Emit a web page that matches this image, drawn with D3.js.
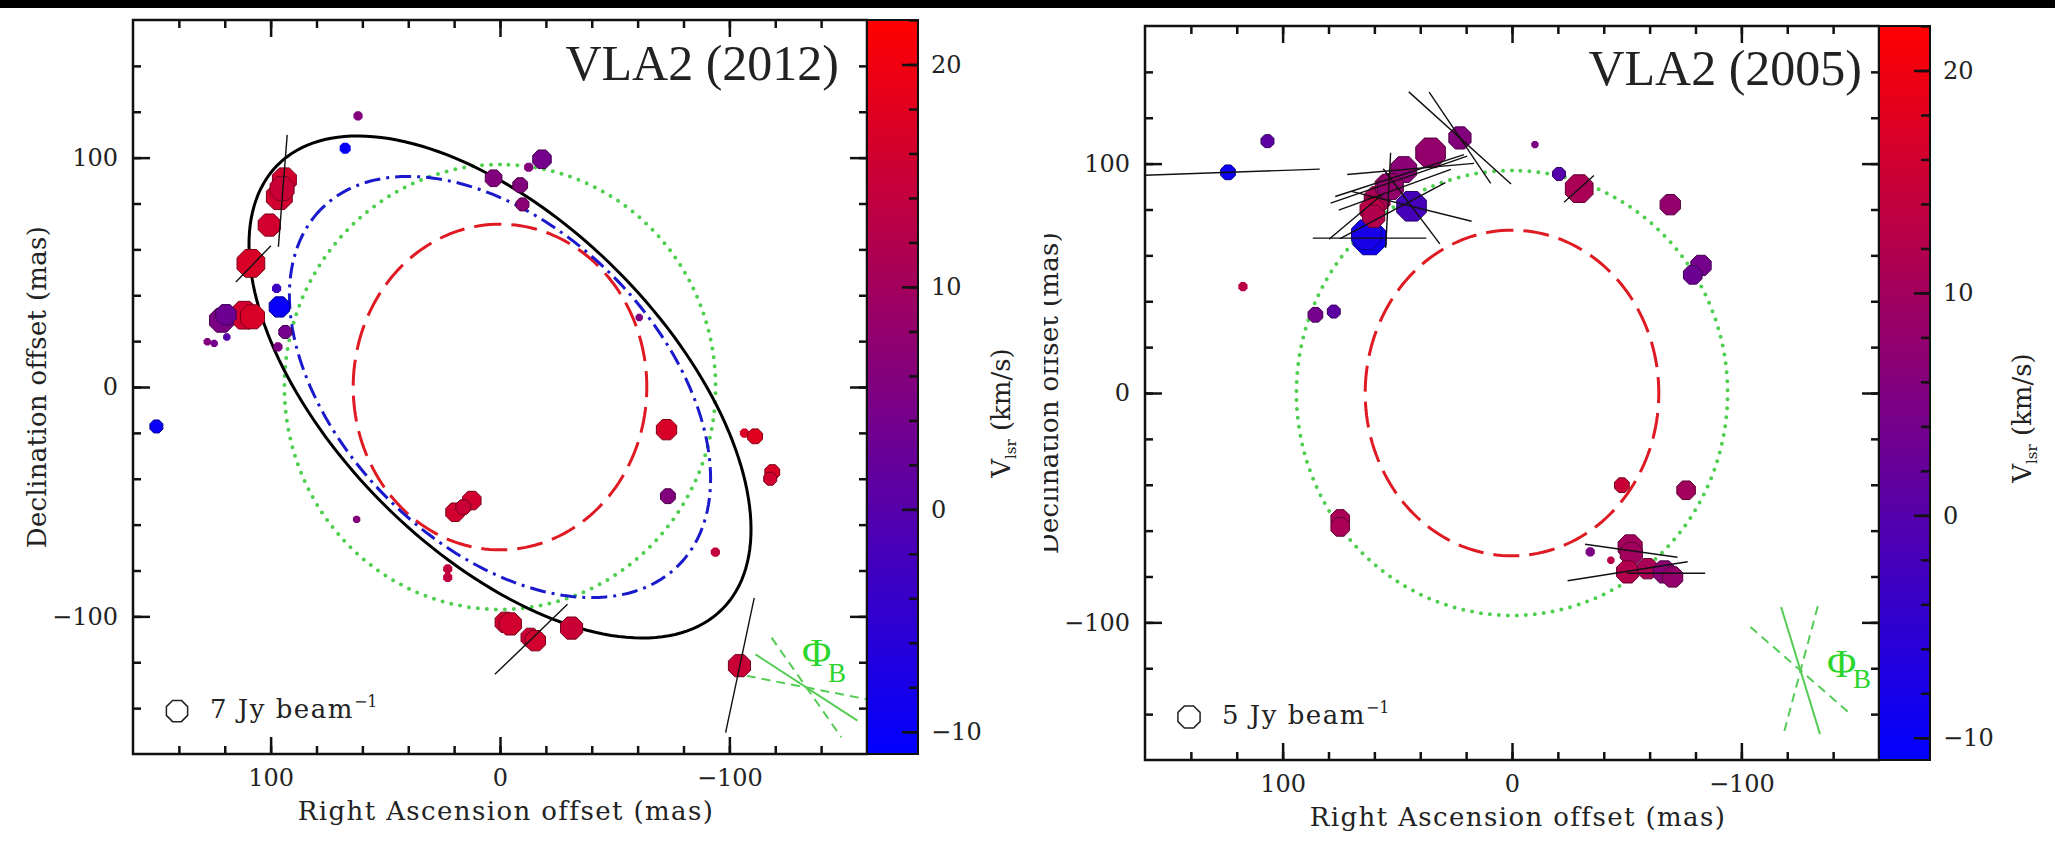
<!DOCTYPE html>
<html>
<head>
<meta charset="utf-8">
<script src="https://cdn.jsdelivr.net/npm/d3@7"></script>
<style>
  body { margin: 0; background: #fff; }
  svg { display: block; }
</style>
</head>
<body>
<div id="chart"></div>
<script>
// ---- axis ticks ----
const offsetTicks = [100, 0, -100];
const offsetMinorTicks = d3.range(-140, 141, 20);
const vlsrTicks = [20, 10, 0, -10];
const vlsrMinorTicks = d3.range(-10, 23, 2);
const vlsrRange = [-11, 22];

// ---- VLA2 2012 maser features (RA off, Dec off in mas; Vlsr km/s; flux Jy/beam) ----
const ra2012   = [61.9, 67.5, 2.8, -18.3, -12.5, -8.8, -9.8, 94, 96.2, 95, 100.6, 108.6, 111.5, 107.9, 121.4, 119.5, 127.6, 124.6, 119.1, 96.2, 97.4, 93.6, 96.8, 149.8, -60.7, -72.6, -106.6, -111.2, -118.7, -117.8, -73.2, -93.9, 12.3, 19.6, 16, 22.8, 22.8, -2.3, -4.5, -13.2, -15.4, -31.2, -104.4, 62.5];
const dec2012  = [118.2, 104.1, 91, 99.3, 95.8, 88, 79.6, 90.3, 83, 86.5, 70.6, 53.9, 31.3, 30.6, 29.1, 31.5, 19.7, 19, 21.8, 34.9, 43, 24, 17.5, -17.2, 30.3, -18.6, -20.1, -21.5, -37.1, -40, -47.6, -72, -49.5, -54.6, -52.4, -79.3, -83, -102.6, -103.3, -109.2, -110.6, -105.1, -121.5, -57.7];
const vlsr2012 = [6, -10, 6, 4, 6, 6, 7, 16, 16, 15, 16, 17, 16, 17, 5, 3, 6, 4, 0, -10, -3, 4, 5, -10, 5, 17, 17, 18, 17, 16, 6, 14, 16, 16, 15, 14, 14, 16, 16, 15, 16, 15, 15, 6];
const flux2012 = [1.3, 1.9, 4.3, 5.3, 1.3, 3.4, 2.6, 8.9, 10.4, 8.9, 7.6, 11.9, 11.9, 8.9, 8.9, 6.4, 0.85, 0.85, 0.85, 6.4, 1.3, 2.6, 1.3, 2.6, 0.85, 6.4, 1.3, 3.4, 3.4, 2.6, 3.4, 1.3, 5.3, 5.3, 3.4, 1.3, 1.3, 6.4, 7.6, 5.3, 6.4, 7.6, 7.6, 0.85];

// linear polarization vectors 2012 (centre, position angle deg, length mas)
const vecRa2012  = [94.7, 107.5, -13.6, -104.6];
const vecDec2012 = [85.5, 53.7, -110, -121.3];
const vecPa2012  = [-4.5, -44, -46, -12];
const vecLen2012 = [49, 22, 44, 60];

// ---- VLA2 2005 maser features ----
const ra2005   = [123.8, 106.6, 117.3, 85.7, 77.7, 58.8, 54.4, 47.2, 35.5, 22.7, 61, 53, 62.1, 63.5, 43.8, -10, -20.5, -29.3, -69, -82.4, -78.8, 74.9, 74.9, -47.9, -75.9, -34.1, -43.1, -51.5, -52, -50.4, -59.1, -66.4, -70, 60.3];
const dec2005  = [96.2, 109.8, 46.4, 34.1, 35.5, 84.3, 90.1, 97.4, 104.7, 111.2, 79.9, 90, 67.5, 69, 81.4, 108.3, 95.5, 89.1, 82.1, 55.6, 51.5, -54.9, -58.4, -40.2, -42.4, -69.3, -72.9, -67.1, -70, -78, -76.6, -78, -80.2, 77];
const vlsr2005 = [-9, 1, 13, 4, 1, 11, 9, 7, 8, 6, 13, 8, -9, -8, -2, 5, 0, 11, 8, 4, 3, 11, 11, 15, 10, 5, 13, 10, 10, 12, 11, 7, 8, 12];
const flux2005 = [2.2, 1.7, 0.87, 2.2, 1.7, 6.8, 5.9, 6.8, 8.9, 5, 5.9, 6.8, 11.2, 8.9, 8.9, 0.56, 1.7, 7.8, 4.2, 4.2, 3.5, 3.5, 3.5, 2.2, 3.5, 0.87, 0.56, 5.9, 5, 5, 4.2, 5, 4.2, 5];

const vecRa2005  = [123.8, 62.1, 22.7, 22.7, 44.2, 49.3, 49, 51.1, 52, 67.9, 54, 43.8, 43.8, -29.2, -52, -50.4, -67.2];
const vecDec2005 = [96.2, 67.5, 111.2, 111.3, 97.7, 93, 94.8, 88.6, 79.5, 77, 84, 81.4, 81.4, 89, -68.8, -77.7, -78.6];
const vecPa2005  = [92, 90, 48, 34, 95, 109, 108, 110, 118, 130, -3, 37, 76, -48, 82, 99, 90];
const vecLen2005 = [80, 49.5, 60, 48, 55.5, 63, 59, 52, 52, 31, 41.5, 41, 54, 17.5, 40.7, 53, 34];

// ---- ellipses (semi-major, semi-minor mas, position angle deg E of N) ----
const fitMajor2012 = [137, 110];
const fitMinor2012 = [72, 69];
const fitPa2012    = [45, 45];
const ringMajor = [97, 71];
const ringMinor = [94, 64];
const ringPa    = [0, 0];

// ---- magnetic field angle Phi_B (centre, PA, error, length) ----
const phiRa  = [-133.6, -125.8];
const phiDec = [-131, -121];
const phiPa  = [57, 17];
const phiErr = [22, 32];
const phiLen = [53, 58];

const legendFlux = [7, 5];

const W = 2055, H = 844, S = 734;
const serif = '"DejaVu Serif", serif';

const panels = [
  { title: 'VLA2 (2012)', left: 133, top: 20, titleX: 839, titleY: 80, cbarLabelX: 1010, cbarLabelY: 413,
    ra: ra2012, dec: dec2012, v: vlsr2012, flux: flux2012,
    vRa: vecRa2012, vDec: vecDec2012, vPa: vecPa2012, vLen: vecLen2012, fit: true,
    phiText: [802, 666, 828, 682], legR: 11.5 },
  { title: 'VLA2 (2005)', left: 1145, top: 26, titleX: 1862, titleY: 85, cbarLabelX: 2031, cbarLabelY: 418,
    ra: ra2005, dec: dec2005, v: vlsr2005, flux: flux2005,
    vRa: vecRa2005, vDec: vecDec2005, vPa: vecPa2005, vLen: vecLen2005, fit: false,
    phiText: [1827, 677, 1853, 688], legR: 12 }
];

const color = d3.scaleLinear().domain(vlsrRange).range(['#0000ff', '#ff0000']).interpolate(d3.interpolateRgb);
const fmt = d => d3.format('d')(d);
const rad = Math.PI / 180;

const octagon = r => d3.lineRadial().curve(d3.curveLinearClosed)(
  d3.range(8).map(i => [Math.PI / 8 + i * Math.PI / 4, r]));

const ellipsePts = (a, b, pa) => d3.range(0, 361, 2).map(t => {
  const c = Math.cos(t * rad), s = Math.sin(t * rad);
  const u = [Math.sin(pa * rad), Math.cos(pa * rad)];
  const w = [Math.cos(pa * rad), -Math.sin(pa * rad)];
  return [a * c * u[0] + b * s * w[0], a * c * u[1] + b * s * w[1]];
});

const svg = d3.select('#chart').append('svg')
  .attr('width', W).attr('height', H)
  .style('background', '#fff');

svg.append('rect').attr('x', 0).attr('y', 0).attr('width', W).attr('height', 8).attr('fill', '#000');

const defs = svg.append('defs');
defs.append('clipPath').attr('id', 'ylclip')
  .append('rect').attr('x', 1044).attr('y', 0).attr('width', 200).attr('height', H);

panels.forEach((p, i) => {
  const x = d3.scaleLinear().domain([160, -160]).range([p.left, p.left + S]);
  const y = d3.scaleLinear().domain([160, -160]).range([p.top, p.top + S]);
  const r = d3.scaleSqrt().domain([0, legendFlux[i]]).range([0, p.legR]);
  const g = svg.append('g');

  defs.append('clipPath').attr('id', 'clip' + i)
    .append('rect').attr('x', p.left).attr('y', p.top).attr('width', S).attr('height', S);

  const plot = g.append('g').attr('clip-path', `url(#clip${i})`);
  const line = d3.line().x(d => x(d[0])).y(d => y(d[1]));

  // ring models
  plot.append('path').attr('d', line(ellipsePts(ringMajor[0], ringMinor[0], ringPa[0])))
    .attr('fill', 'none').attr('stroke', '#4fcf4f').attr('stroke-width', 4)
    .attr('stroke-dasharray', '0 9').attr('stroke-linecap', 'round');
  plot.append('path').attr('d', line(ellipsePts(ringMajor[1], ringMinor[1], ringPa[1])))
    .attr('fill', 'none').attr('stroke', '#e01a22').attr('stroke-width', 3)
    .attr('stroke-dasharray', '26 10');
  if (p.fit) {
    plot.append('path').attr('d', line(ellipsePts(fitMajor2012[1], fitMinor2012[1], fitPa2012[1])))
      .attr('fill', 'none').attr('stroke', '#1a1acc').attr('stroke-width', 3)
      .attr('stroke-dasharray', '16 6 3 6');
    plot.append('path').attr('d', line(ellipsePts(fitMajor2012[0], fitMinor2012[0], fitPa2012[0])))
      .attr('fill', 'none').attr('stroke', '#000').attr('stroke-width', 3);
  }

  // maser features
  const pts = d3.range(p.ra.length);
  plot.selectAll('path.maser').data(pts).join('path')
    .attr('class', 'maser')
    .attr('transform', k => `translate(${x(p.ra[k])},${y(p.dec[k])})`)
    .attr('d', k => octagon(r(p.flux[k])))
    .attr('fill', k => color(p.v[k]))
    .attr('stroke', k => r(p.flux[k]) > 6 ? d3.color(color(p.v[k])).darker(1.6) : 'none')
    .attr('stroke-width', 1);

  // polarization vectors
  plot.selectAll('line.vec').data(d3.range(p.vRa.length)).join('line')
    .attr('class', 'vec')
    .attr('x1', k => x(p.vRa[k] + p.vLen[k] / 2 * Math.sin(p.vPa[k] * rad)))
    .attr('y1', k => y(p.vDec[k] + p.vLen[k] / 2 * Math.cos(p.vPa[k] * rad)))
    .attr('x2', k => x(p.vRa[k] - p.vLen[k] / 2 * Math.sin(p.vPa[k] * rad)))
    .attr('y2', k => y(p.vDec[k] - p.vLen[k] / 2 * Math.cos(p.vPa[k] * rad)))
    .attr('stroke', '#111').attr('stroke-width', 1.4);

  // Phi_B marker
  [[phiPa[i], null], [phiPa[i] - phiErr[i], '9 6'], [phiPa[i] + phiErr[i], '9 6']].forEach(([pa, dash]) => {
    const dx = phiLen[i] / 2 * Math.sin(pa * rad), dy = phiLen[i] / 2 * Math.cos(pa * rad);
    plot.append('line')
      .attr('x1', x(phiRa[i] + dx)).attr('y1', y(phiDec[i] + dy))
      .attr('x2', x(phiRa[i] - dx)).attr('y2', y(phiDec[i] - dy))
      .attr('stroke', '#55cc55').attr('stroke-width', 2)
      .attr('stroke-dasharray', dash);
  });
  g.append('text').attr('x', p.phiText[0]).attr('y', p.phiText[1])
    .attr('font-family', '"Liberation Serif", serif').attr('font-size', 40)
    .attr('fill', '#2bd52b').text('\u03A6');
  g.append('text').attr('x', p.phiText[2]).attr('y', p.phiText[3])
    .attr('font-family', '"Liberation Serif", serif').attr('font-size', 27)
    .attr('fill', '#2bd52b').text('B');

  // frame
  g.append('rect').attr('x', p.left).attr('y', p.top).attr('width', S).attr('height', S)
    .attr('fill', 'none').attr('stroke', '#111').attr('stroke-width', 2.5);

  const styleAxis = a => {
    a.select('.domain').remove();
    a.selectAll('.tick line').attr('stroke', '#111').attr('stroke-width', 2.5);
    a.attr('font-family', serif).attr('font-size', 24);
    a.selectAll('.tick text').attr('fill', '#222');
  };
  g.append('g').attr('transform', `translate(0,${p.top + S})`)
    .call(d3.axisBottom(x).tickValues(offsetTicks).tickSize(-17).tickPadding(15).tickFormat(fmt)).call(styleAxis);
  g.append('g').attr('transform', `translate(0,${p.top + S})`)
    .call(d3.axisBottom(x).tickValues(offsetMinorTicks).tickSize(-8).tickFormat('')).call(styleAxis);
  g.append('g').attr('transform', `translate(0,${p.top})`)
    .call(d3.axisTop(x).tickValues(offsetTicks).tickSize(-17).tickFormat('')).call(styleAxis);
  g.append('g').attr('transform', `translate(0,${p.top})`)
    .call(d3.axisTop(x).tickValues(offsetMinorTicks).tickSize(-8).tickFormat('')).call(styleAxis);
  g.append('g').attr('transform', `translate(${p.left},0)`)
    .call(d3.axisLeft(y).tickValues(offsetTicks).tickSize(-17).tickPadding(15).tickFormat(fmt)).call(styleAxis);
  g.append('g').attr('transform', `translate(${p.left},0)`)
    .call(d3.axisLeft(y).tickValues(offsetMinorTicks).tickSize(-8).tickFormat('')).call(styleAxis);
  g.append('g').attr('transform', `translate(${p.left + S},0)`)
    .call(d3.axisRight(y).tickValues(offsetTicks).tickSize(-17).tickFormat('')).call(styleAxis);
  g.append('g').attr('transform', `translate(${p.left + S},0)`)
    .call(d3.axisRight(y).tickValues(offsetMinorTicks).tickSize(-8).tickFormat('')).call(styleAxis);

  // axis labels
  g.append('text').attr('x', p.left + S / 2 + 6).attr('y', p.top + S + 66)
    .attr('text-anchor', 'middle').attr('font-family', serif).attr('font-size', 26)
    .attr('letter-spacing', 1.4).attr('fill', '#222')
    .text('Right Ascension offset (mas)');
  const ylg = g.append('g');
  if (i === 1) ylg.attr('clip-path', 'url(#ylclip)');
  ylg.append('text')
    .attr('transform', `translate(${p.left - 87},${p.top + S / 2}) rotate(-90)`)
    .attr('text-anchor', 'middle').attr('font-family', serif).attr('font-size', 26)
    .attr('letter-spacing', 0.3).attr('fill', '#222')
    .text('Declination offset (mas)');

  // title
  g.append('text').attr('x', p.titleX).attr('y', p.titleY).attr('text-anchor', 'end')
    .attr('font-family', '"Liberation Serif", serif').attr('font-size', 50).attr('fill', '#222')
    .text(p.title);

  // legend
  const lx = p.left + 44, ly = p.top + S - 43;
  g.append('path').attr('transform', `translate(${lx},${ly})`).attr('d', octagon(r(legendFlux[i])))
    .attr('fill', 'none').attr('stroke', '#222').attr('stroke-width', 1.5);
  const lt = g.append('text').attr('x', p.left + 77).attr('y', p.top + S - 36)
    .attr('font-family', serif).attr('font-size', 26).attr('letter-spacing', 1.5).attr('fill', '#222');
  lt.append('tspan').text(`${legendFlux[i]} Jy beam`);
  lt.append('tspan').attr('dy', -11).attr('font-size', 16).attr('letter-spacing', 0).text('\u22121');

  // colour bar
  const cx0 = p.left + S, cw = 51;
  const grad = defs.append('linearGradient').attr('id', 'cbar' + i)
    .attr('x1', 0).attr('y1', 1).attr('x2', 0).attr('y2', 0);
  d3.range(0, 1.001, 0.1).forEach(t => {
    grad.append('stop').attr('offset', t).attr('stop-color', color(vlsrRange[0] + t * (vlsrRange[1] - vlsrRange[0])));
  });
  g.append('rect').attr('x', cx0).attr('y', p.top).attr('width', cw).attr('height', S)
    .attr('fill', `url(#cbar${i})`).attr('stroke', '#111').attr('stroke-width', 2);
  const cy = d3.scaleLinear().domain(vlsrRange).range([p.top + S, p.top]);
  g.append('g').attr('transform', `translate(${cx0 + cw},0)`)
    .call(d3.axisRight(cy).tickValues(vlsrTicks).tickSize(-16).tickPadding(13).tickFormat(fmt)).call(styleAxis);
  g.append('g').attr('transform', `translate(${cx0 + cw},0)`)
    .call(d3.axisRight(cy).tickValues(vlsrMinorTicks).tickSize(-9).tickFormat('')).call(styleAxis);

  const cl = g.append('text')
    .attr('transform', `translate(${p.cbarLabelX},${p.cbarLabelY}) rotate(-90)`)
    .attr('text-anchor', 'middle').attr('font-family', serif).attr('font-size', 26).attr('fill', '#222');
  cl.append('tspan').text('V');
  cl.append('tspan').attr('dy', 6).attr('font-size', 15).text('lsr');
  cl.append('tspan').attr('dy', -6).text(' (km/s)');
});
</script>
</body>
</html>
